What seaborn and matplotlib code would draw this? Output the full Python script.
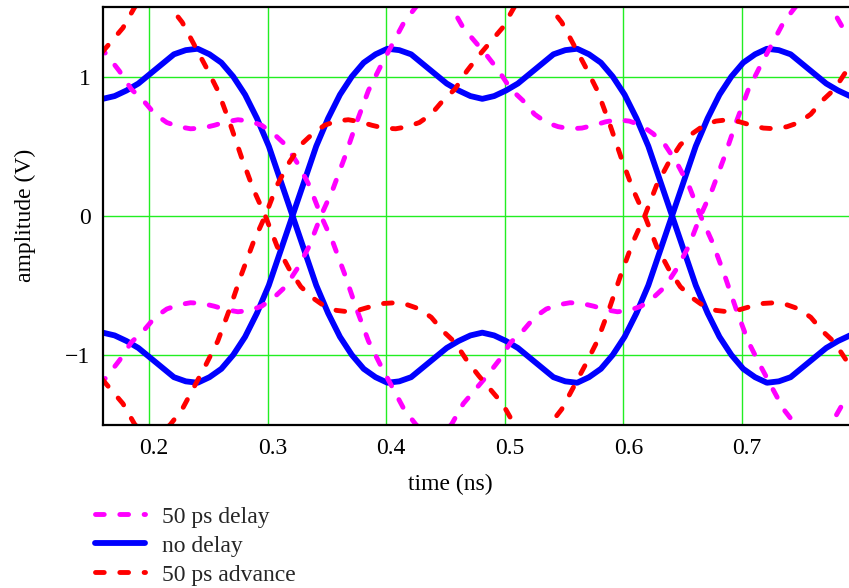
import matplotlib
matplotlib.use("Agg")
import matplotlib.pyplot as plt
import matplotlib.transforms as mtransforms
import seaborn as sns

# sample times (ns) for each trace
time_nodelay = [0.151, 0.161, 0.171, 0.181, 0.191, 0.201, 0.211, 0.221, 0.231, 0.241,
                0.251, 0.261, 0.271, 0.281, 0.291, 0.301, 0.311, 0.321, 0.331, 0.341,
                0.351, 0.361, 0.371, 0.381, 0.391, 0.401, 0.411, 0.421, 0.431, 0.441,
                0.451, 0.461, 0.471, 0.481, 0.491, 0.501, 0.511, 0.521, 0.531, 0.541,
                0.551, 0.561, 0.571, 0.581, 0.591, 0.601, 0.611, 0.621, 0.631, 0.641,
                0.651, 0.661, 0.671, 0.681, 0.691, 0.701, 0.711, 0.721, 0.731, 0.741,
                0.751, 0.761, 0.771, 0.781, 0.791, 0.801]
time_delay = [0.145, 0.155, 0.165, 0.175, 0.185, 0.195, 0.205, 0.215, 0.225, 0.235,
              0.245, 0.255, 0.265, 0.275, 0.285, 0.295, 0.305, 0.315, 0.325, 0.335,
              0.345, 0.355, 0.365, 0.375, 0.385, 0.395, 0.405, 0.415, 0.425, 0.435,
              0.445, 0.455, 0.465, 0.475, 0.485, 0.495, 0.505, 0.515, 0.525, 0.535,
              0.545, 0.555, 0.565, 0.575, 0.585, 0.595, 0.605, 0.615, 0.625, 0.635,
              0.645, 0.655, 0.665, 0.675, 0.685, 0.695, 0.705, 0.715, 0.725, 0.735,
              0.745, 0.755, 0.765, 0.775, 0.785, 0.795, 0.805]
time_advance = [0.148, 0.158, 0.168, 0.178, 0.188, 0.198, 0.208, 0.218, 0.228, 0.238,
                0.248, 0.258, 0.268, 0.278, 0.288, 0.298, 0.308, 0.318, 0.328, 0.338,
                0.348, 0.358, 0.368, 0.378, 0.388, 0.398, 0.408, 0.418, 0.428, 0.438,
                0.448, 0.458, 0.468, 0.478, 0.488, 0.498, 0.508, 0.518, 0.528, 0.538,
                0.548, 0.558, 0.568, 0.578, 0.588, 0.598, 0.608, 0.618, 0.628, 0.638,
                0.648, 0.658, 0.668, 0.678, 0.688, 0.698, 0.708, 0.718, 0.728, 0.738,
                0.748, 0.758, 0.768, 0.778, 0.788, 0.798]

# amplitude (V), two complementary traces per case
nodelay_a = [0.86, 0.84, 0.86, 0.90, 0.95, 1.02, 1.09, 1.16, 1.19, 1.20,
             1.16, 1.10, 1.00, 0.87, 0.70, 0.50, 0.25, 0.00, -0.25, -0.50,
             -0.70, -0.87, -1.00, -1.10, -1.16, -1.20, -1.19, -1.16, -1.09, -1.02,
             -0.95, -0.90, -0.86, -0.84, -0.86, -0.90, -0.95, -1.02, -1.09, -1.16,
             -1.19, -1.20, -1.16, -1.10, -1.00, -0.87, -0.70, -0.50, -0.25, 0.00,
             0.25, 0.50, 0.70, 0.87, 1.00, 1.10, 1.16, 1.20, 1.19, 1.16,
             1.09, 1.02, 0.95, 0.90, 0.86, 0.84]
nodelay_b = [-0.86, -0.84, -0.86, -0.90, -0.95, -1.02, -1.09, -1.16, -1.19, -1.20,
             -1.16, -1.10, -1.00, -0.87, -0.70, -0.50, -0.25, 0.00, 0.25, 0.50,
             0.70, 0.87, 1.00, 1.10, 1.16, 1.20, 1.19, 1.16, 1.09, 1.02,
             0.95, 0.90, 0.86, 0.84, 0.86, 0.90, 0.95, 1.02, 1.09, 1.16,
             1.19, 1.20, 1.16, 1.10, 1.00, 0.87, 0.70, 0.50, 0.25, 0.00,
             -0.25, -0.50, -0.70, -0.87, -1.00, -1.10, -1.16, -1.20, -1.19, -1.16,
             -1.09, -1.02, -0.95, -0.90, -0.86, -0.84]
delay_a = [1.35, 1.25, 1.15, 1.04, 0.91, 0.83, 0.73, 0.67, 0.64, 0.625,
           0.63, 0.65, 0.675, 0.69, 0.68, 0.65, 0.59, 0.51, 0.38, 0.22,
           0.00, -0.19, -0.42, -0.67, -0.90, -1.07, -1.23, -1.39, -1.50, -1.58,
           -1.58, -1.50, -1.35, -1.25, -1.15, -1.04, -0.91, -0.83, -0.73, -0.67,
           -0.64, -0.625, -0.63, -0.65, -0.675, -0.69, -0.68, -0.65, -0.59, -0.51,
           -0.38, -0.22, 0.00, 0.19, 0.42, 0.67, 0.90, 1.07, 1.23, 1.39,
           1.50, 1.58, 1.58, 1.50, 1.35, 1.25, 1.15]
delay_b = [-1.35, -1.25, -1.15, -1.04, -0.91, -0.83, -0.73, -0.67, -0.64, -0.625,
           -0.63, -0.65, -0.675, -0.69, -0.68, -0.65, -0.59, -0.51, -0.38, -0.22,
           0.00, 0.19, 0.42, 0.67, 0.90, 1.07, 1.23, 1.39, 1.50, 1.58,
           1.58, 1.50, 1.35, 1.25, 1.15, 1.04, 0.91, 0.83, 0.73, 0.67,
           0.64, 0.625, 0.63, 0.65, 0.675, 0.69, 0.68, 0.65, 0.59, 0.51,
           0.38, 0.22, 0.00, -0.19, -0.42, -0.67, -0.90, -1.07, -1.23, -1.39,
           -1.50, -1.58, -1.58, -1.50, -1.35, -1.25, -1.15]
advance_a = [1.04, 1.15, 1.25, 1.35, 1.50, 1.58, 1.58, 1.50, 1.39, 1.23,
             1.07, 0.90, 0.67, 0.42, 0.19, 0.00, -0.22, -0.38, -0.51, -0.59,
             -0.65, -0.68, -0.69, -0.675, -0.65, -0.63, -0.625, -0.64, -0.67, -0.73,
             -0.83, -0.91, -1.04, -1.15, -1.25, -1.35, -1.50, -1.58, -1.58, -1.50,
             -1.39, -1.23, -1.07, -0.90, -0.67, -0.42, -0.19, 0.00, 0.22, 0.38,
             0.51, 0.59, 0.65, 0.68, 0.69, 0.675, 0.65, 0.63, 0.625, 0.64,
             0.67, 0.73, 0.83, 0.91, 1.04, 1.15]
advance_b = [-1.04, -1.15, -1.25, -1.35, -1.50, -1.58, -1.58, -1.50, -1.39, -1.23,
             -1.07, -0.90, -0.67, -0.42, -0.19, 0.00, 0.22, 0.38, 0.51, 0.59,
             0.65, 0.68, 0.69, 0.675, 0.65, 0.63, 0.625, 0.64, 0.67, 0.73,
             0.83, 0.91, 1.04, 1.15, 1.25, 1.35, 1.50, 1.58, 1.58, 1.50,
             1.39, 1.23, 1.07, 0.90, 0.67, 0.42, 0.19, 0.00, -0.22, -0.38,
             -0.51, -0.59, -0.65, -0.68, -0.69, -0.675, -0.65, -0.63, -0.625, -0.64,
             -0.67, -0.73, -0.83, -0.91, -1.04, -1.15]

x_ticks = [0.2, 0.3, 0.4, 0.5, 0.6, 0.7]
x_tick_labels = ["0.2", "0.3", "0.4", "0.5", "0.6", "0.7"]
y_ticks = [-1, 0, 1]
y_tick_labels = ["\u22121", "0", "1"]
legend_labels = ["50 ps delay", "no delay", "50 ps advance"]

sns.set_theme(style="white")
plt.rcParams["font.family"] = ["Liberation Serif", "DejaVu Serif"]
plt.rcParams["font.size"] = 17

fig = plt.figure(figsize=(8.49, 5.88), dpi=100)
ax = fig.add_axes([103 / 849, 1 - 424.5 / 588, 746 / 849, 417.5 / 588])

dash = (0, (1.8, 3.2))
traces = [
    (time_nodelay, nodelay_a, "#0000ff", "-", 4.2),
    (time_nodelay, nodelay_b, "#0000ff", "-", 4.2),
    (time_delay, delay_a, "#ff00ff", dash, 3.5),
    (time_delay, delay_b, "#ff00ff", dash, 3.5),
    (time_advance, advance_a, "#ff0000", dash, 3.5),
    (time_advance, advance_b, "#ff0000", dash, 3.5),
]
lines = []
for t, v, col, ls, lw in traces:
    sns.lineplot(x=t, y=v, ax=ax, color=col, linestyle=ls, linewidth=lw,
                 estimator=None, sort=False, dash_capstyle="round",
                 solid_capstyle="round")
    lines.append(ax.lines[-1])

ax.set_xlim(0.1612, 0.7902)
ax.set_ylim(-1.5, 1.5)
ax.set_xticks(x_ticks)
ax.set_xticklabels(x_tick_labels)
ax.set_yticks(y_ticks)
ax.set_yticklabels(y_tick_labels)
ax.tick_params(length=0, labelsize=17, colors="black")
ax.tick_params(axis="x", pad=10)
ax.tick_params(axis="y", pad=9)
ax.grid(True, color="#22ee22", linewidth=1.0)
ax.set_axisbelow(True)

offset = mtransforms.ScaledTranslation(5 / 100, 0, fig.dpi_scale_trans)
for lab in ax.get_xticklabels():
    lab.set_transform(lab.get_transform() + offset)

for side in ["left", "bottom", "top"]:
    ax.spines[side].set_color("black")
    ax.spines[side].set_linewidth(1.6)
ax.spines["right"].set_visible(False)

ax.set_xlabel("time (ns)", fontsize=17, color="black")
ax.set_ylabel("amplitude (V)", fontsize=17, color="black")
ax.xaxis.set_label_coords(0.465, -0.119)
ax.yaxis.set_label_coords(-0.090, 0.5)

fig.legend([lines[2], lines[0], lines[4]], legend_labels,
           loc="upper left", bbox_to_anchor=(95 / 849, 1 - 506 / 588),
           frameon=False, borderpad=0, borderaxespad=0, fontsize=17,
           handlelength=2.1, handletextpad=0.75, labelspacing=0.32)

fig.savefig("out.png", dpi=100)
